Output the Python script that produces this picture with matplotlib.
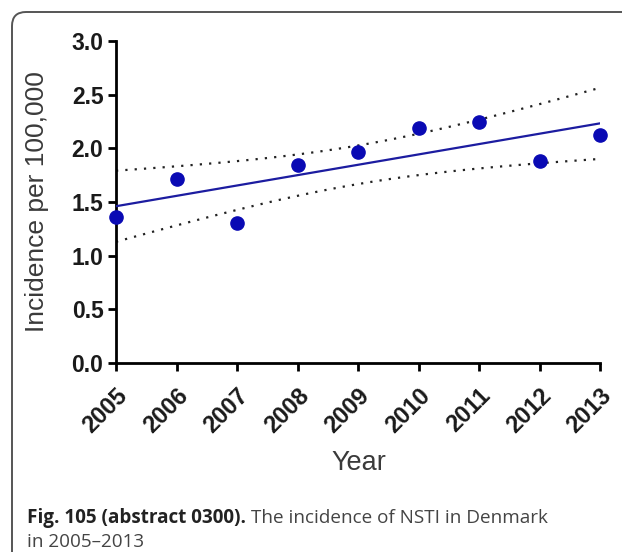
import numpy as np
import matplotlib
matplotlib.use("Agg")
import matplotlib.pyplot as plt
from matplotlib.patches import FancyBboxPatch
from matplotlib.transforms import IdentityTransform

# Data
years = [2005, 2006, 2007, 2008, 2009, 2010, 2011, 2012, 2013]
incidence = [1.36, 1.71, 1.30, 1.845, 1.97, 2.185, 2.25, 1.88, 2.12]
y_ticks = [0.0, 0.5, 1.0, 1.5, 2.0, 2.5, 3.0]

# Linear regression with 95% confidence band
x = np.array(years, dtype=float)
y = np.array(incidence)
slope, intercept = np.polyfit(x, y, 1)
x_fit = np.linspace(x.min(), x.max(), 100)
y_fit = slope * x_fit + intercept
resid = y - (slope * x + intercept)
n = len(x)
s = np.sqrt(np.sum(resid ** 2) / (n - 2))
t_crit = 2.365  # t(0.975, df=7)
se = s * np.sqrt(1 / n + (x_fit - x.mean()) ** 2 / np.sum((x - x.mean()) ** 2))
upper = y_fit + t_crit * se
lower = y_fit - t_crit * se

fig = plt.figure(figsize=(6.22, 5.52), dpi=100)
ax = fig.add_axes([116 / 622, (552 - 363) / 552, (600 - 116) / 622, (363 - 41) / 552])

ax.plot(x_fit, y_fit, color="#1c1ca0", lw=1.6, zorder=3)
ax.plot(x_fit, upper, color="#222222", lw=1.6, ls=(0, (1, 3.2)), zorder=2)
ax.plot(x_fit, lower, color="#222222", lw=1.6, ls=(0, (1, 3.2)), zorder=2)
ax.plot(x, y, "o", color="#0a0ab4", markersize=9.5, clip_on=False, zorder=4)

ax.set_xlim(2005, 2013)
ax.set_ylim(0, 3)
ax.set_xticks(years)
ax.set_yticks(y_ticks)
ax.set_xticklabels([str(v) for v in years], rotation=45, ha="right",
                   rotation_mode="anchor", fontsize=17, fontweight="bold",
                   family="Liberation Sans", color="#1a1a1a")
ax.set_yticklabels([f"{v:.1f}" for v in y_ticks], fontsize=16.5,
                   fontweight="bold", family="Liberation Sans", color="#1a1a1a")
ax.tick_params(axis="both", direction="out", length=6, width=2, color="black", pad=3)
ax.tick_params(axis="x", pad=9)

for side in ["top", "right"]:
    ax.spines[side].set_visible(False)
for side in ["left", "bottom"]:
    ax.spines[side].set_linewidth(2)

ax.set_ylabel("Incidence per 100,000", fontsize=19, family="Liberation Sans",
              color="#3a3a3a")
ax.yaxis.set_label_coords(-0.138, 0.5)
fig.text(359 / 622, 1 - 463 / 552, "Year", fontsize=19.5, family="Liberation Sans",
         color="#3a3a3a", ha="center", va="center")

# Rounded border of the figure panel
box = FancyBboxPatch((12, -30), 660, 552 - 12 + 30, boxstyle="round,pad=0,rounding_size=14",
                     transform=IdentityTransform(), fill=False, edgecolor="#555555",
                     lw=1.4, clip_on=False)
fig.patches.append(box)

# Caption
bold = fig.text(27 / 622, 1 - 518 / 552, "Fig. 105 (abstract 0300).", fontsize=13.6,
                fontweight="bold", family="Open Sans", color="#222222", va="center")
fig.canvas.draw()
bb = bold.get_window_extent()
fig.text((bb.x1 + 5) / 622, 1 - 518 / 552, "The incidence of NSTI in Denmark",
         fontsize=13.6, family="Open Sans", color="#444444", va="center")
fig.text(27 / 622, 1 - 542 / 552, "in 2005\u20132013", fontsize=13.6,
         family="Open Sans", color="#444444", va="center")

fig.savefig("out.png", dpi=100)
